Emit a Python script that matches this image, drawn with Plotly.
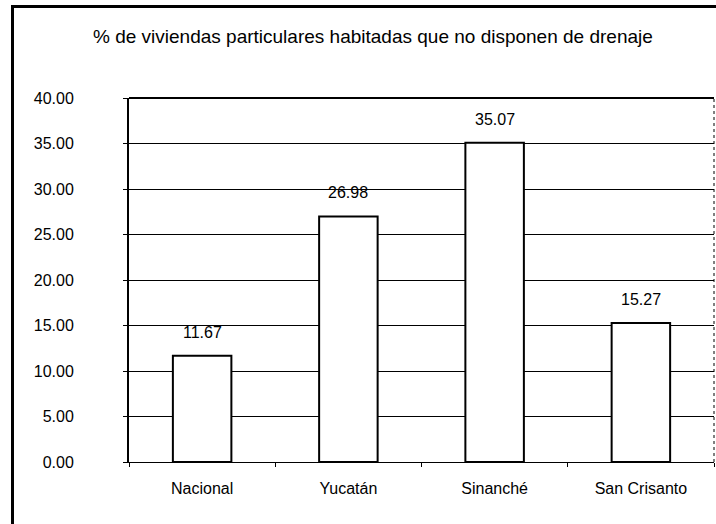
import plotly.graph_objects as go

categories = ["Nacional", "Yucatán", "Sinanché", "San Crisanto"]
values = [11.67, 26.98, 35.07, 15.27]
value_labels = ["11.67", "26.98", "35.07", "15.27"]
y_ticks = [0, 5, 10, 15, 20, 25, 30, 35, 40]
y_tick_labels = ["0.00", "5.00", "10.00", "15.00", "20.00", "25.00", "30.00", "35.00", "40.00"]
title = "% de viviendas particulares habitadas que no disponen de drenaje"

W, H = 716, 524
L, R, T, B = 129, 2, 98, 62
pw, ph = W - L - R, H - T - B
FONT = "Liberation Sans, Arial"

def px_x(x):
    return (x - L) / pw

def px_y(y):
    return (H - B - y) / ph

fig = go.Figure()
fig.add_trace(go.Bar(
    x=categories, y=values, width=0.4,
    marker=dict(color="white", line=dict(color="black", width=2)),
    hoverinfo="skip",
))
for cat, val, lab in zip(categories, values, value_labels):
    fig.add_annotation(x=cat, y=val, text=lab, showarrow=False,
                       xanchor="center", yanchor="bottom", yshift=13,
                       font=dict(family=FONT, size=16, color="black"))

fig.update_layout(
    width=W, height=H,
    margin=dict(l=L, r=R, t=T, b=B),
    paper_bgcolor="white", plot_bgcolor="white",
    showlegend=False,
    font=dict(family=FONT, size=16, color="black"),
)
fig.update_yaxes(
    range=[0, 40], tickvals=y_ticks, ticktext=y_tick_labels,
    showgrid=True, gridcolor="black", gridwidth=1,
    showline=True, linecolor="black", linewidth=2,
    ticks="outside", ticklen=4, tickcolor="black",
    ticklabelstandoff=46, zeroline=False,
    tickfont=dict(size=16),
)
fig.update_xaxes(
    showline=True, linecolor="black", linewidth=1,
    ticks="outside", tickson="boundaries", ticklen=4, tickcolor="black",
    tickfont=dict(size=16), ticklabelstandoff=12,
)
# plot area top/right frame
fig.add_shape(type="line", xref="paper", yref="paper", x0=0, x1=1, y0=1, y1=1,
              line=dict(color="black", width=2))
fig.add_shape(type="line", xref="paper", yref="paper", x0=1, x1=1, y0=0, y1=1,
              line=dict(color="black", width=1, dash="dot"))
# outer chart frame
fig.add_shape(type="path", xref="paper", yref="paper",
              path="M {x0},{y0} L {x0},{y1} L {x2},{y1}".format(
                  x0=px_x(12), y0=px_y(540), y1=px_y(6), x2=px_x(716)),
              line=dict(color="black", width=2))
fig.add_annotation(text=" ", xref="paper", yref="paper",
                   x=px_x(12), y=px_y(6), xanchor="left", yanchor="top",
                   showarrow=False, width=720, height=540, borderpad=0,
                   bordercolor="black", borderwidth=2)
fig.add_annotation(text=title, xref="paper", yref="paper",
                   x=px_x(373), y=px_y(37), showarrow=False,
                   xanchor="center", yanchor="middle",
                   font=dict(size=19, color="black"))
fig.write_html(
    "out.html",
    config={"displayModeBar": False},
    post_script="document.body.style.margin='0';document.body.style.overflow='hidden';",
)
